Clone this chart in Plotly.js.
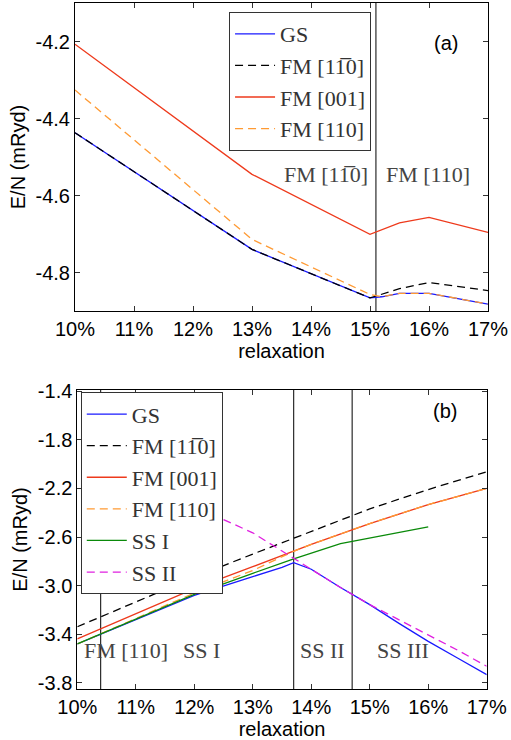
<!DOCTYPE html>
<html>
<head>
<meta charset="utf-8">
<script src="https://cdn.plot.ly/plotly-3.0.1.min.js"></script>
<style>html,body{margin:0;padding:0;background:#fff;}#chart{width:511px;height:740px;}</style>
</head>
<body>
<div id="chart"></div>
<script>
// ---------- Data ----------
// Panel (a)
const xA_GS     = [10, 13, 15, 15.2, 15.5, 16, 17];
const yA_GS     = [-4.437, -4.740, -4.866, -4.863, -4.854, -4.854, -4.882];
const xA_FM1m10 = [10, 13, 15, 15.5, 16, 17];
const yA_FM1m10 = [-4.437, -4.740, -4.866, -4.842, -4.826, -4.847];
const xA_FM001  = [10, 13, 15, 15.5, 16, 17];
const yA_FM001  = [-4.207, -4.545, -4.701, -4.671, -4.657, -4.696];
const xA_FM110  = [10, 13, 15, 15.2, 15.5, 16, 17];
const yA_FM110  = [-4.326, -4.714, -4.857, -4.863, -4.854, -4.854, -4.882];
const boundariesA = [15.1];

// Panel (b)
const xB_GS     = [10, 11, 12, 13, 13.5, 13.7, 14, 14.5, 15, 15.5, 16, 16.5, 17];
const yB_GS     = [-3.48, -3.28, -3.08, -2.926, -2.85, -2.81, -2.865, -3.015, -3.156, -3.31, -3.458, -3.595, -3.732];
const xB_FM1m10 = [10, 11, 12, 13, 14, 15, 16, 17];
const yB_FM1m10 = [-3.338, -3.135, -2.93, -2.74, -2.555, -2.368, -2.209, -2.063];
const xB_FM001  = [10, 11, 12, 13, 14, 15, 16, 17];
const yB_FM001  = [-3.437, -3.23, -3.025, -2.844, -2.66, -2.489, -2.333, -2.2];
const xB_FM110  = [10, 11, 12, 13, 13.7, 14, 15, 16, 17];
const yB_FM110  = [-3.48, -3.27, -3.06, -2.875, -2.717, -2.66, -2.489, -2.333, -2.2];
const xB_SS1    = [10, 11, 12, 13, 13.7, 14.5, 15, 15.5, 16];
const yB_SS1    = [-3.478, -3.275, -3.072, -2.898, -2.78, -2.654, -2.61, -2.562, -2.516];
const xB_SS2    = [12.5, 13, 13.5, 14, 14.5, 15, 15.5, 16, 16.5, 17];
const yB_SS2    = [-2.456, -2.565, -2.715, -2.865, -3.015, -3.156, -3.28, -3.40, -3.53, -3.663];
const boundariesB = [10.4, 13.7, 14.7];

// Tick labels
const xTickVals = [10, 11, 12, 13, 14, 15, 16, 17];
const xTickText = ['10%', '11%', '12%', '13%', '14%', '15%', '16%', '17%'];
const yTickValsA = [-4.8, -4.6, -4.4, -4.2];
const yTickTextA = ['-4.8', '-4.6', '-4.4', '-4.2'];
const yTickValsB = [-3.8, -3.4, -3.0, -2.6, -2.2, -1.8, -1.4];
const yTickTextB = ['-3.8', '-3.4', '-3.0', '-2.6', '-2.2', '-1.8', '-1.4'];

const NAME_GS = 'GS';
const NAME_FM1m10 = 'FM [11\u03050]';
const NAME_FM001 = 'FM [001]';
const NAME_FM110 = 'FM [110]';
const NAME_SS1 = 'SS I';
const NAME_SS2 = 'SS II';

// ---------- Styles ----------
const C_BLUE = '#1a1aff', C_BLACK = '#000000', C_RED = '#ee3a1c', C_ORANGE = '#ff9a33',
      C_GREEN = '#0a8a0a', C_MAG = '#e020e0';
const DASH = '8px,5px';
const sans = 'Liberation Sans, Arial, sans-serif';
const serif = 'Liberation Serif, Times New Roman, serif';

function tr(x, y, name, color, dash, xa, ya, leg) {
  return {x: x, y: y, name: name, type: 'scatter', mode: 'lines',
    line: {color: color, width: 1.3, dash: dash || 'solid'},
    xaxis: xa, yaxis: ya, legend: leg, hoverinfo: 'skip'};
}

const data = [
  tr(xA_GS, yA_GS, NAME_GS, C_BLUE, null, 'x', 'y', 'legend'),
  tr(xA_FM1m10, yA_FM1m10, NAME_FM1m10, C_BLACK, DASH, 'x', 'y', 'legend'),
  tr(xA_FM001, yA_FM001, NAME_FM001, C_RED, null, 'x', 'y', 'legend'),
  tr(xA_FM110, yA_FM110, NAME_FM110, C_ORANGE, DASH, 'x', 'y', 'legend'),
  tr(xB_GS, yB_GS, NAME_GS, C_BLUE, null, 'x2', 'y2', 'legend2'),
  tr(xB_FM1m10, yB_FM1m10, NAME_FM1m10, C_BLACK, DASH, 'x2', 'y2', 'legend2'),
  tr(xB_FM001, yB_FM001, NAME_FM001, C_RED, null, 'x2', 'y2', 'legend2'),
  tr(xB_FM110, yB_FM110, NAME_FM110, C_ORANGE, DASH, 'x2', 'y2', 'legend2'),
  tr(xB_SS1, yB_SS1, NAME_SS1, C_GREEN, null, 'x2', 'y2', 'legend2'),
  tr(xB_SS2, yB_SS2, NAME_SS2, C_MAG, DASH, 'x2', 'y2', 'legend2')
];

const axisCommon = {
  showline: true, linecolor: '#000', linewidth: 1, mirror: 'ticks',
  ticks: 'inside', ticklen: 5, tickwidth: 1, tickcolor: '#333',
  showgrid: false, zeroline: false, tickmode: 'array',
  tickfont: {family: sans, size: 20, color: '#000'}
};

const shapes = [];
boundariesA.forEach(b => shapes.push({type: 'line', xref: 'x', yref: 'y domain', x0: b, x1: b, y0: 0, y1: 1,
  layer: 'below', line: {color: '#555', width: 1.5}}));
boundariesB.forEach((b, i) => shapes.push({type: 'line', xref: 'x2', yref: 'y2 domain', x0: b, x1: b, y0: 0, y1: 1,
  layer: 'below', line: {color: i === 2 ? '#555' : '#000', width: i === 2 ? 1.5 : 1}}));

const lblFont = {family: serif, size: 22, color: '#444'};
const annotations = [
  {text: '(a)', xref: 'paper', yref: 'paper', x: 0.932, y: 0.9606, showarrow: false, font: {family: sans, size: 20, color: '#000'}},
  {text: '(b)', xref: 'paper', yref: 'paper', x: 0.930, y: 0.4052, showarrow: false, font: {family: sans, size: 20, color: '#000'}},
  {text: NAME_FM1m10, xref: 'x', yref: 'paper', x: 14.25, y: 0.771, showarrow: false, font: lblFont},
  {text: NAME_FM110, xref: 'x', yref: 'paper', x: 15.98, y: 0.771, showarrow: false, font: lblFont},
  {text: NAME_FM110, xref: 'x2', yref: 'paper', x: 10.84, y: 0.035, showarrow: false, font: lblFont},
  {text: NAME_SS1, xref: 'x2', yref: 'paper', x: 12.13, y: 0.035, showarrow: false, font: lblFont},
  {text: NAME_SS2, xref: 'x2', yref: 'paper', x: 14.19, y: 0.035, showarrow: false, font: lblFont},
  {text: 'SS III', xref: 'x2', yref: 'paper', x: 15.57, y: 0.035, showarrow: false, font: lblFont}
];

const legCommon = {
  font: {family: serif, size: 22, color: '#333'},
  bgcolor: '#fff', bordercolor: '#333', borderwidth: 1,
  xanchor: 'left', yanchor: 'top', itemwidth: 40
};

const layout = {
  width: 511, height: 740,
  margin: {l: 75, r: 23, t: 3, b: 51},
  paper_bgcolor: '#fff', plot_bgcolor: '#fff',
  showlegend: true,
  xaxis: Object.assign({}, axisCommon, {domain: [0, 1], anchor: 'y', range: [10, 17],
    tickvals: xTickVals, ticktext: xTickText,
    title: {text: 'relaxation', font: {family: sans, size: 20, color: '#000'}, standoff: 0}}),
  yaxis: Object.assign({}, axisCommon, {domain: [0.551, 1], anchor: 'x', range: [-4.9, -4.1],
    tickvals: yTickValsA, ticktext: yTickTextA,
    title: {text: 'E/N (mRyd)', font: {family: sans, size: 20, color: '#000'}, standoff: 4}}),
  xaxis2: Object.assign({}, axisCommon, {domain: [0.0056, 0.9969], anchor: 'y2', range: [10, 17],
    tickvals: xTickVals, ticktext: xTickText,
    title: {text: 'relaxation', font: {family: sans, size: 20, color: '#000'}, standoff: 8}}),
  yaxis2: Object.assign({}, axisCommon, {domain: [0, 0.4359], anchor: 'x2', range: [-3.85, -1.39],
    tickvals: yTickValsB, ticktext: yTickTextB,
    title: {text: 'E/N (mRyd)', font: {family: sans, size: 20, color: '#000'}, standoff: 4}}),
  legend: Object.assign({}, legCommon, {x: 0.373, y: 0.9869}),
  legend2: Object.assign({}, legCommon, {x: 0.014, y: 0.4326}),
  shapes: shapes,
  annotations: annotations
};

Plotly.newPlot('chart', data, layout, {displayModeBar: false, staticPlot: true});
</script>
</body>
</html>
